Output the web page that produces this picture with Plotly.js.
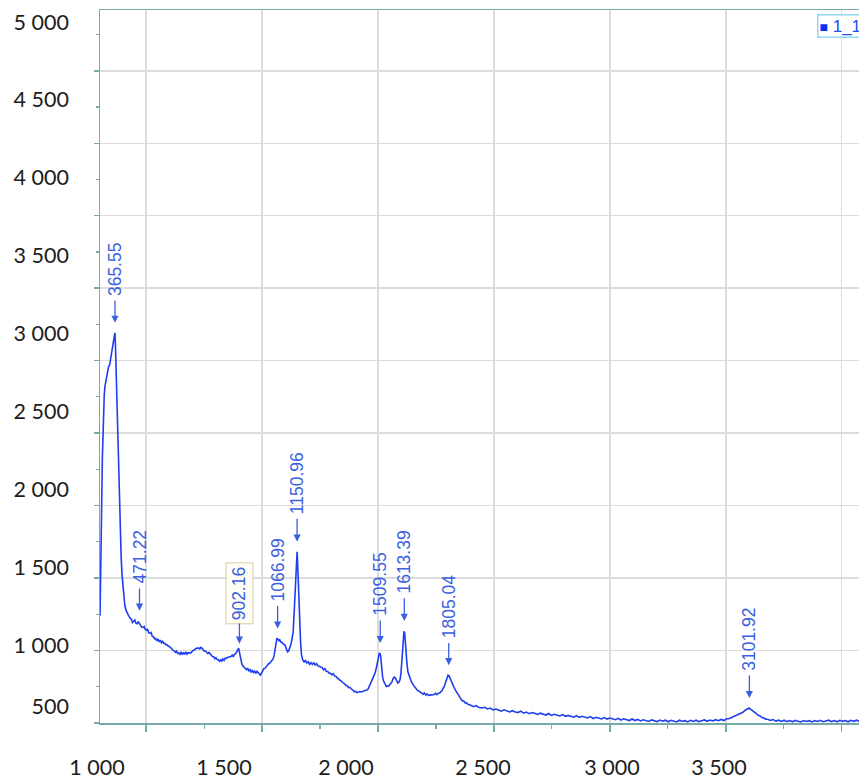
<!DOCTYPE html>
<html>
<head>
<meta charset="utf-8">
<script src="https://cdn.plot.ly/plotly-3.0.1.min.js"></script>
<style>
html,body{margin:0;padding:0;background:#ffffff;}
#chart{width:859px;height:780px;}
</style>
</head>
<body>
<div id="chart"></div>
<script>
// Raman shift (cm-1) of each sample of the spectrum
const shiftCm = [
  301,303,305,308,311,315,319,322,325,328,
  331,334,338,341,344,348,352,356,360,363,
  365.55,368,371,375,379,384,388,392,396,400,
  404,408,413,418,
  423,430,436,441,446,451,456,461,466,471,
  476,481,486,491,496,501,506,511,516,521,
  526,531,536,541,546,551,556,561,566,571,
  576,581,586,591,596,601,606,611,616,621,
  626,631,636,641,646,651,656,661,666,671,
  676,681,686,691,696,701,706,711,716,721,
  726,731,736,741,746,751,756,761,766,771,
  776,781,786,791,796,801,806,811,816,821,
  826,831,836,841,846,851,856,861,866,871,
  876,881,886,891,895,899,903,908,913,918,
  923,928,933,938,943,948,953,958,963,968,
  973,978,983,988,993,998,1003,1008,1013,1018,
  1023,1028,1033,1038,1043,1048,1052,1056,1060,1064,
  1068,1072,1076,1080,1085,1090,1095,1100,1105,1110,
  1115,1120,1125,1130,1134,1138,1142,1146,1149,1151,
  1153,1156,1159,1162,1166,1170,
  1175,1181,1187,1193,1199,1205,1211,1217,1223,1229,
  1235,1241,1247,1253,1259,1265,1271,1277,1283,1289,
  1295,1301,1307,1313,1319,1325,1331,1337,1343,1349,
  1355,1361,1367,1373,1379,1385,1391,1397,1403,1409,
  1415,1421,1427,1433,1439,1445,1451,1457,1462,1467,
  1472,1477,1482,1487,1492,1497,1501,1505,1508,1511,
  1514,1517,1520,1524,1528,1532,1536,1540,1545,1550,
  1555,1560,1565,1570,1575,1580,1585,1590,1595,1599,
  1603,1606,1609,1612,1615,1618,1621,1625,1629,1634,
  1640,1646,1652,1658,1664,1670,1676,1682,1688,1694,
  1700,1706,1712,1718,1724,1730,1736,1742,1748,1754,
  1760,1766,1771,1776,1781,1786,1790,1794,1798,1802,
  1806,1810,1814,1818,1823,1828,1834,1840,1846,1852,
  1858,1864,1870,1876,1882,1888,1894,
  1900,1912,1924,1936,1948,1960,1972,1984,1996,2008,
  2020,2032,2044,2056,2068,2080,2092,2104,2116,2128,
  2140,2152,2164,2176,2188,2200,2212,2224,2236,2248,
  2260,2272,2284,2296,2308,2320,2332,2344,2356,2368,
  2380,2392,2404,2416,2428,2440,2452,2464,2476,2488,
  2500,2512,2524,2536,2548,2560,2572,2584,2596,2608,
  2620,2632,2644,2656,2668,2680,2692,2704,2716,2728,
  2740,2752,2764,2776,2788,2800,2812,2824,2836,2848,
  2860,2872,2884,2896,2908,2920,2932,2944,2956,2968,
  2980,2992,3004,3014,3024,3034,3044,3054,3064,3074,
  3084,3092,3100,3108,3116,3124,3132,3140,3148,3156,
  3164,3172,3180,3192,3204,3216,3228,3240,3252,3264,
  3276,3288,3300,3312,3324,3336,3348,3360,3372,3384,
  3396,3408,3420,3432,3444,3456,3468,3480,3492,3504,
  3516,3528,3540,3552,3564,3575
];
// Intensity of each sample
const intensity = [
  1190,1500,1700,1890,2200,2490,2600,2660,2690,2700,
  2720,2760,2790,2795,2810,2850,2900,2930,2960,2985,
  3005,2900,2720,2480,2180,1890,1720,1570,1450,1370,
  1300,1255,1225,1205,
  1193,1176,1168,1146,1152,1162,1140,1138,1152,1136,
  1128,1116,1115,1120,1102,1098,1102,1080,1078,1082,
  1058,1055,1042,1044,1028,1040,1022,1033,1016,1025,
  1012,1012,1002,1003,992,992,982,978,967,964,
  955,962,947,950,942,957,940,952,944,957,
  942,952,953,950,956,967,968,977,980,981,
  983,977,986,980,968,962,963,957,946,954,
  943,937,928,927,913,920,908,907,898,907,
  896,912,903,917,916,922,926,926,928,937,
  926,942,946,960,968,981,950,905,878,866,
  856,852,843,850,836,844,828,837,826,834,
  820,832,820,816,808,826,836,850,853,864,
  870,882,884,895,898,914,935,975,1020,1045,
  1040,1030,1035,1022,1018,1010,1005,998,975,958,
  965,985,1010,1050,1085,1200,1330,1470,1570,1600,
  1540,1400,1260,1150,1020,940,
  907,893,902,886,894,878,888,876,887,873,
  882,868,864,856,857,843,850,833,832,820,
  820,810,817,803,800,788,784,773,770,758,
  754,743,740,728,730,718,714,703,704,696,
  702,703,700,703,704,710,712,718,735,750,
  765,780,800,820,850,890,925,945,950,935,
  890,830,795,770,755,745,735,740,738,745,
  755,765,785,795,790,770,758,762,780,820,
  900,980,1050,1090,1080,1010,940,880,830,800,
  782,760,750,733,722,710,707,698,694,686,
  694,680,688,678,680,682,682,684,692,683,
  692,693,702,708,724,736,755,772,795,808,
  805,790,772,758,742,730,712,695,680,665,
  654,643,642,630,630,620,620,
  615,606,612,600,597,602,591,597,585,591,
  584,577,586,579,572,580,571,568,577,564,
  571,561,568,563,556,564,558,552,562,550,
  557,549,546,555,544,550,544,538,548,537,
  544,536,533,542,530,538,533,527,536,526,
  533,525,522,531,520,528,523,517,527,517,
  524,514,522,518,511,521,515,510,520,513,
  519,509,518,513,508,519,512,516,508,518,
  511,519,510,516,521,512,520,514,522,516,
  524,517,528,528,535,538,548,553,563,570,
  583,589,597,588,580,567,562,550,546,536,
  534,525,525,517,523,513,519,511,519,510,
  517,509,518,512,508,517,511,516,508,517,
  511,518,509,514,519,510,517,509,518,512,
  517,509,518,512,519,513
];
// Labelled peaks
const peakShift = [365.55, 471.22, 902.16, 1066.99, 1150.96, 1509.55, 1613.39, 1805.04, 3101.92];
const peakIntensity = [3005, 1132, 978, 1043, 1600, 950, 1092, 808, 597];
// Axis tick labels as printed on the chart
const yTickVals = [604, 1000, 1500, 2000, 2500, 3000, 3500, 4000, 4500, 5000];
const yTickText = ['500','1 000','1 500','2 000','2 500','3 000','3 500','4 000','4 500','5 000'];
const xTickVals = [374.2, 921.9, 1448.2, 2039.2, 2595.6, 3057.1];
const xTickText = ['1 000','1 500','2 000','2 500','3 000','3 500'];
const seriesName = '1_1';

const AXC = '#76aba6', GRID = '#dcdcdc', BLUE = '#1e3ef0', ANN = '#3a5fe0';
const tickFont = {family: 'Lato, "Open Sans", sans-serif', size: 21.5, color: '#1c1c1c'};
const XR = [300.85, 3574.7], YR = [501, 5077];

const traces = [
  {type: 'scatter', mode: 'lines', x: shiftCm, y: intensity, name: seriesName,
   line: {color: BLUE, width: 1.6}, showlegend: false, hoverinfo: 'skip'},
  {type: 'scatter', mode: 'lines', x: [], y: [], xaxis: 'x2', yaxis: 'y2',
   showlegend: false, hoverinfo: 'skip'}
];

const annFont = 17.5;
const annotations = peakShift.map((px, i) => {
  const txt = px.toFixed(2);
  const digits = txt.replace('.', '').length;
  const len = annFont * (0.556 * digits + 0.278);
  const boxed = (i === 2);
  const standoff = i === 1 ? 14 : (boxed ? 5 : 10);
  const pad = boxed ? 3 : 4;
  const arrowLen = boxed ? 20 : 22;
  return {
    x: px, y: peakIntensity[i], xref: 'x', yref: 'y',
    text: txt, textangle: -90, showarrow: true,
    arrowhead: 2, arrowsize: 1.1, arrowwidth: 1.3, arrowcolor: ANN,
    ax: 0, ay: -(standoff + arrowLen + pad + 1 + len / 2),
    standoff: standoff,
    font: {family: '"Liberation Sans", Arial, sans-serif', size: annFont, color: ANN},
    borderpad: pad,
    bordercolor: boxed ? '#d6cda4' : 'rgba(0,0,0,0)',
    borderwidth: 1,
    bgcolor: boxed ? '#fffef6' : 'rgba(0,0,0,0)'
  };
});
// legend box (top right, cut by the picture edge as in the original)
annotations.push({
  xref: 'paper', yref: 'paper', x: 0.9451, y: 0.9944, xanchor: 'left', yanchor: 'top',
  showarrow: false,
  text: '<span style="color:#0a2ff0;font-size:14px">■</span> ' + seriesName,
  font: {family: '"Liberation Sans", "DejaVu Sans", Arial, sans-serif', size: 17, color: '#2050f0'},
  bordercolor: '#8fd8ee', borderwidth: 1.5, borderpad: 1, bgcolor: '#ffffff'
});

const layout = {
  width: 859, height: 780, autosize: false,
  margin: {l: 100, r: 0, t: 10, b: 57},
  paper_bgcolor: '#ffffff', plot_bgcolor: '#ffffff',
  showlegend: false, hovermode: false,
  xaxis: {
    domain: [0, 1], range: XR, anchor: 'y',
    showline: true, linecolor: AXC, linewidth: 1.5, mirror: true,
    showgrid: true, gridcolor: GRID, gridwidth: 1.5,
    tickmode: 'linear', tick0: 0, dtick: 500,
    ticks: 'outside', ticklen: 7, tickwidth: 1.5, tickcolor: AXC,
    minor: {tick0: 0, dtick: 250, ticks: 'outside', ticklen: 4, tickwidth: 1.2, tickcolor: AXC, showgrid: false},
    showticklabels: false, zeroline: false
  },
  xaxis2: {
    overlaying: 'x', anchor: 'y', side: 'bottom', range: XR,
    tickmode: 'array', tickvals: xTickVals, ticktext: xTickText,
    ticks: '', showline: false, showgrid: false, zeroline: false,
    tickfont: tickFont, ticklabelstandoff: 29, ticklabelshift: -20
  },
  yaxis: {
    domain: [0, 1], range: YR, anchor: 'x',
    tickmode: 'array', tickvals: yTickVals, ticktext: yTickText,
    ticks: '', showline: false, showgrid: false, zeroline: false,
    tickfont: tickFont, ticklabelstandoff: 30
  },
  yaxis2: {
    overlaying: 'y', anchor: 'x', side: 'left', range: YR,
    tickmode: 'linear', tick0: 501, dtick: 465.1,
    showline: true, linecolor: AXC, linewidth: 1.5,
    ticks: 'outside', ticklen: 5, tickwidth: 1.5, tickcolor: AXC,
    minor: {tick0: 501, dtick: 232.55, ticks: 'outside', ticklen: 3, tickwidth: 1.2, tickcolor: AXC, showgrid: false},
    showgrid: true, gridcolor: GRID, gridwidth: 1.5,
    showticklabels: false, zeroline: false
  },
  annotations: annotations
};

Plotly.newPlot('chart', traces, layout, {staticPlot: true, displayModeBar: false});
</script>
</body>
</html>
